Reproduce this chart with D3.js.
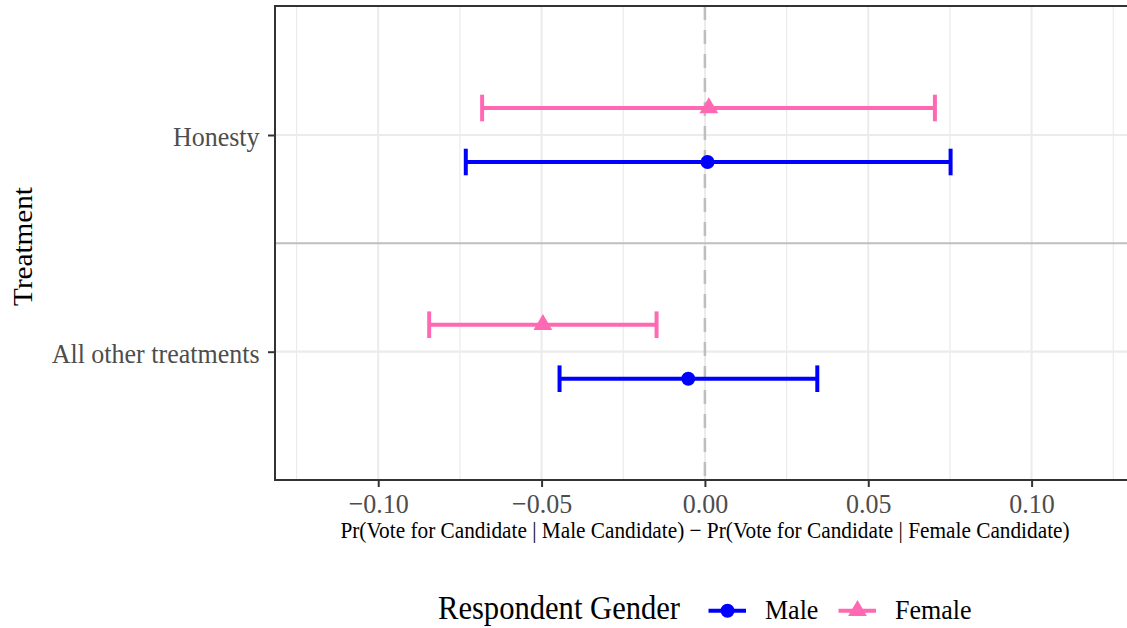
<!DOCTYPE html>
<html>
<head>
<meta charset="utf-8">
<script src="https://cdn.jsdelivr.net/npm/d3@7"></script>
<style>
  body { margin: 0; background: #fff; }
  text { font-family: "Liberation Serif", "DejaVu Serif", serif; }
</style>
</head>
<body>
<div id="chart"></div>
<script>
// data
const treatments = ["All other treatments", "Honesty"];
const genders = ["Male", "Female"];
const maleEst = [-0.0051, 0.0008];
const maleLow = [-0.0445, -0.0732];
const maleHigh = [0.0344, 0.0752];
const femaleEst = [-0.0496, 0.0012];
const femaleLow = [-0.0844, -0.0682];
const femaleHigh = [-0.0148, 0.0704];
const xTicks = [-0.10, -0.05, 0.00, 0.05, 0.10];
const xMinor = [-0.125, -0.075, -0.025, 0.025, 0.075, 0.125];

const width = 1127, height = 628;
const panel = { left: 275, top: 6, right: 1129, bottom: 480 };
const colors = { Male: "#0000ff", Female: "#ff69b4" };
const stretch = 1.08; // glyphs in the picture are a little taller than wide

const svg = d3.select("#chart").append("svg")
    .attr("width", width)
    .attr("height", height);

// text helper, stretched vertically around its baseline
function label(g, x, y, txt, size, anchor, fill) {
    return g.append("text")
        .attr("transform", `translate(${x},${y}) scale(1,${stretch})`)
        .attr("text-anchor", anchor || "start")
        .attr("fill", fill || "#000")
        .style("font-size", size + "px")
        .text(txt);
}

const x = d3.scaleLinear()
    .domain([-0.1316, 0.1292])
    .range([panel.left, 1127]);

const y = d3.scalePoint()
    .domain(treatments.slice().reverse())
    .range([135, 351.7]);

const dodge = d3.scalePoint().domain(["Female", "Male"]).range([-27, 27]);

// grid
const grid = svg.append("g");
grid.selectAll(".minor").data(xMinor).enter().append("line")
    .attr("x1", d => x(d)).attr("x2", d => x(d))
    .attr("y1", panel.top).attr("y2", panel.bottom)
    .attr("stroke", "#ebebeb").attr("stroke-width", 1.2);
grid.selectAll(".major").data(xTicks).enter().append("line")
    .attr("x1", d => x(d)).attr("x2", d => x(d))
    .attr("y1", panel.top).attr("y2", panel.bottom)
    .attr("stroke", "#ebebeb").attr("stroke-width", 2);
grid.selectAll(".hmajor").data(treatments).enter().append("line")
    .attr("x1", panel.left).attr("x2", panel.right)
    .attr("y1", d => y(d)).attr("y2", d => y(d))
    .attr("stroke", "#ebebeb").attr("stroke-width", 2.2);

// separator between treatments
const sepY = (y(treatments[0]) + y(treatments[1])) / 2;
svg.append("line")
    .attr("x1", panel.left).attr("x2", panel.right)
    .attr("y1", sepY).attr("y2", sepY)
    .attr("stroke", "#bebebe").attr("stroke-width", 2);

// zero line
svg.append("line")
    .attr("x1", x(0)).attr("x2", x(0))
    .attr("y1", panel.top).attr("y2", panel.bottom)
    .attr("stroke", "#bebebe").attr("stroke-width", 2.5)
    .attr("stroke-dasharray", "14,10");

// build rows
const rows = [];
treatments.forEach((t, i) => {
    rows.push({ t, g: "Male", est: maleEst[i], lo: maleLow[i], hi: maleHigh[i] });
    rows.push({ t, g: "Female", est: femaleEst[i], lo: femaleLow[i], hi: femaleHigh[i] });
});

const triangle = "M0,-10.7L9.4,5.3L-9.4,5.3Z";

function marker(g, kind, cx, cy, c) {
    if (kind === "Male") {
        g.append("circle").attr("cx", cx).attr("cy", cy).attr("r", 7).attr("fill", c);
    } else {
        g.append("path").attr("d", triangle)
            .attr("transform", `translate(${cx},${cy})`).attr("fill", c);
    }
}

const marks = svg.append("g");
rows.forEach(d => {
    const yy = y(d.t) + dodge(d.g);
    const c = colors[d.g];
    marks.append("line")
        .attr("x1", x(d.lo)).attr("x2", x(d.hi))
        .attr("y1", yy).attr("y2", yy)
        .attr("stroke", c).attr("stroke-width", 4);
    [d.lo, d.hi].forEach(v => {
        marks.append("line")
            .attr("x1", x(v)).attr("x2", x(v))
            .attr("y1", yy - 13.3).attr("y2", yy + 13.3)
            .attr("stroke", c).attr("stroke-width", 4);
    });
    marker(marks, d.g, x(d.est), yy, c);
});

// panel border
svg.append("rect")
    .attr("x", panel.left).attr("y", panel.top)
    .attr("width", panel.right - panel.left).attr("height", panel.bottom - panel.top)
    .attr("fill", "none").attr("stroke", "#333").attr("stroke-width", 2);

// x axis
const fmt = d => (d < 0 ? "\u2212" : "") + Math.abs(d).toFixed(2);
const xAxis = svg.append("g")
    .attr("transform", `translate(0,${panel.bottom + 1})`)
    .call(d3.axisBottom(x).tickValues(xTicks).tickFormat(fmt).tickSize(6));
xAxis.select(".domain").remove();
xAxis.selectAll(".tick line").attr("stroke", "#333").attr("stroke-width", 2);
xAxis.selectAll(".tick text").remove();
xAxis.selectAll(".tick").each(function (d) {
    label(d3.select(this), 0, 512.5 - panel.bottom - 1, fmt(d), 26, "middle", "#4d4d4d");
});

// y axis
const yAxis = svg.append("g")
    .attr("transform", `translate(${panel.left - 1},0)`)
    .call(d3.axisLeft(y).tickSize(6));
yAxis.select(".domain").remove();
yAxis.selectAll(".tick line").attr("stroke", "#333").attr("stroke-width", 2);
yAxis.selectAll(".tick text").remove();
yAxis.selectAll(".tick").each(function (d) {
    label(d3.select(this), -14.5, 10.5, d, 26, "end", "#4d4d4d");
});

// axis titles
label(svg, 705, 538, "Pr(Vote for Candidate | Male Candidate) \u2212 Pr(Vote for Candidate | Female Candidate)", 21.3, "middle");

svg.append("text")
    .attr("transform", `translate(32,246.5) rotate(-90) scale(${stretch},1)`)
    .attr("text-anchor", "middle")
    .style("font-size", "27px")
    .text("Treatment");

// legend
const legend = svg.append("g");
label(legend, 438, 619.3, "Respondent Gender", 30.6);
const keyX = [708.5, 838.5];
const labX = [765, 895];
genders.forEach((g, i) => {
    const c = colors[g];
    legend.append("line")
        .attr("x1", keyX[i]).attr("x2", keyX[i] + 37.5)
        .attr("y1", 610.7).attr("y2", 610.7)
        .attr("stroke", c).attr("stroke-width", 4);
    marker(legend, g, keyX[i] + 19, 610.7, c);
    label(legend, labX[i], 619.3, g, 26);
});
</script>
</body>
</html>
